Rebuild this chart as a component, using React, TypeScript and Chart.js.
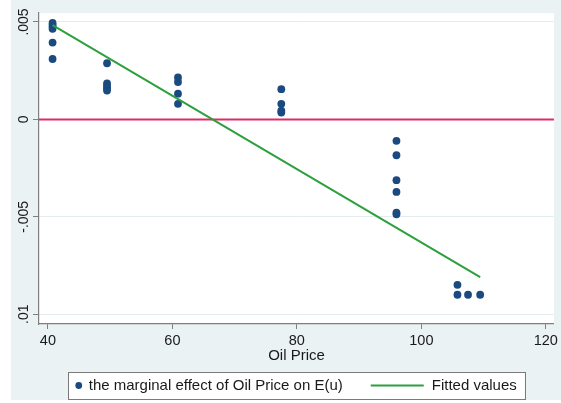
import { useEffect, useRef } from 'react';
import { Chart, registerables } from 'chart.js';

Chart.register(...registerables);

// ---- data ----
const oilPrice = [
  40.75, 40.75, 40.75, 40.75, 40.75, 40.75,
  49.5, 49.5, 49.5, 49.5, 49.5,
  60.9, 60.9, 60.9, 60.9,
  77.5, 77.5, 77.5, 77.5,
  96.0, 96.0, 96.0, 96.0, 96.0, 96.0,
  105.8, 105.8, 107.5, 109.45,
];
const marginalEffect = [
  0.00495, 0.00485, 0.00475, 0.00465, 0.00394, 0.0031,
  0.00288, 0.00185, 0.00172, 0.0016, 0.00148,
  0.00215, 0.00192, 0.00132, 0.0008,
  0.00155, 0.0008, 0.00045, 0.00035,
  -0.0011, -0.00184, -0.00312, -0.00372, -0.00478, -0.00487,
  -0.00849, -0.009, -0.009, -0.009,
];
const fittedX = [40.75, 109.45];
const fittedY = [0.00484, -0.0081];
const refLineX = [38.57, 121.3];
const refLineY = [0, 0];
const xRange = [38.57, 121.3];
const yRange = [-0.0105, 0.00546];
const xTickValues = [40, 60, 80, 100, 120];
const yTickValues = [0.005, 0, -0.005, -0.01];
const yTickLabels = ['.005', '0', '-.005', '.01'];
const seriesNames = ['the marginal effect of Oil Price on E(u)', 'Fitted values'];
const xTitle = 'Oil Price';

const FONT = '"Liberation Sans", Arial, sans-serif';
const NAVY = '#1b4a80';
const GREEN = '#2ca03c';
const RED = '#db2d64';
const FRAME = '#eaf2f3';

const bgPlugin = {
  id: 'bgPlugin',
  beforeDraw(chart: any) {
    const { ctx, width, height, chartArea: a } = chart;
    ctx.save();
    ctx.fillStyle = '#ffffff';
    ctx.fillRect(0, 0, width, height);
    ctx.fillStyle = FRAME;
    ctx.fillRect(11, 0, width - 11, 400);
    ctx.fillStyle = '#ffffff';
    ctx.fillRect(a.left, a.top, a.right - a.left, a.bottom - a.top);
    ctx.restore();
  },
};

const legendPlugin = {
  id: 'boxLegend',
  afterDraw(chart: any) {
    const { ctx, chartArea: a } = chart;
    ctx.save();
    ctx.font = `15px ${FONT}`;
    const w1 = ctx.measureText(seriesNames[0]).width;
    const w2 = ctx.measureText(seriesNames[1]).width;
    const padL = 10.6, dotGap = 10, midGap = 28, lineLen = 53, lineGap = 8, padR = 8;
    const total = padL + dotGap + w1 + midGap + lineLen + lineGap + w2 + padR;
    const cx = (a.left + a.right) / 2;
    const left = cx - total / 2;
    const top = 372;
    const h = 27;
    const cy = top + h / 2;
    ctx.fillStyle = '#ffffff';
    ctx.fillRect(left, top, total, h);
    ctx.strokeStyle = '#7a7a7a';
    ctx.lineWidth = 1;
    ctx.strokeRect(Math.round(left) + 0.5, top + 0.5, Math.round(total), h);
    let x = left + padL;
    ctx.fillStyle = NAVY;
    ctx.beginPath();
    ctx.arc(x, cy, 3.4, 0, Math.PI * 2);
    ctx.fill();
    x += dotGap;
    ctx.fillStyle = '#1a1a1a';
    ctx.textBaseline = 'middle';
    ctx.textAlign = 'left';
    ctx.fillText(seriesNames[0], x, cy);
    x += w1 + midGap;
    ctx.strokeStyle = GREEN;
    ctx.lineWidth = 2;
    ctx.beginPath();
    ctx.moveTo(x, cy);
    ctx.lineTo(x + lineLen, cy);
    ctx.stroke();
    x += lineLen + lineGap;
    ctx.fillStyle = '#1a1a1a';
    ctx.fillText(seriesNames[1], x, cy);
    ctx.restore();
  },
};

export default function App() {
  const ref = useRef<HTMLCanvasElement | null>(null);

  useEffect(() => {
    document.body.style.margin = '0';
    const canvas = ref.current;
    if (!canvas) return;
    const chart = new Chart(canvas, {
      type: 'scatter',
      data: {
        datasets: [
          {
            type: 'line',
            label: seriesNames[1],
            data: fittedX.map((x, i) => ({ x, y: fittedY[i] })),
            borderColor: GREEN,
            borderWidth: 2,
            pointRadius: 0,
            fill: false,
            order: 0,
          } as any,
          {
            label: seriesNames[0],
            data: oilPrice.map((x, i) => ({ x, y: marginalEffect[i] })),
            backgroundColor: NAVY,
            borderColor: NAVY,
            borderWidth: 0,
            pointRadius: 3.9,
            order: 1,
          },
          {
            type: 'line',
            label: 'zero',
            data: refLineX.map((x, i) => ({ x, y: refLineY[i] })),
            borderColor: RED,
            borderWidth: 2,
            pointRadius: 0,
            fill: false,
            order: 2,
          } as any,
        ],
      },
      options: {
        animation: false,
        responsive: false,
        layout: { padding: { left: 11, top: 13, right: 3, bottom: 34 } },
        plugins: {
          legend: { display: false },
          tooltip: { enabled: false },
        },
        scales: {
          x: {
            type: 'linear',
            min: xRange[0],
            max: xRange[1],
            afterBuildTicks: (s: any) => {
              s.ticks = xTickValues.map((v) => ({ value: v }));
            },
            afterFit: (s: any) => {
              s.height = 45;
            },
            grid: {
              drawOnChartArea: false,
              drawTicks: true,
              tickLength: 5,
              tickColor: '#7f7f7f',
            },
            border: { display: true, color: '#7f7f7f', width: 1.2 },
            ticks: {
              color: '#1a1a1a',
              font: { family: FONT, size: 14.5 },
              padding: 3,
              maxRotation: 0,
              callback: (v: any) => String(v),
            },
            title: {
              display: true,
              text: xTitle,
              color: '#1a1a1a',
              font: { family: FONT, size: 15 },
              padding: { top: 0, bottom: 4.5 },
            },
          },
          y: {
            type: 'linear',
            min: yRange[0],
            max: yRange[1],
            afterBuildTicks: (s: any) => {
              s.ticks = yTickValues.map((v) => ({ value: v }));
            },
            afterFit: (s: any) => {
              s.width = 28;
            },
            grid: {
              color: '#e3edf0',
              lineWidth: 1,
              drawTicks: true,
              tickLength: 6,
              tickColor: '#7f7f7f',
            },
            border: { display: true, color: '#7f7f7f', width: 1.2 },
            ticks: {
              color: '#1a1a1a',
              font: { family: FONT, size: 14 },
              minRotation: 90,
              maxRotation: 90,
              crossAlign: 'center',
              padding: -7,
              callback: (v: any) => {
                const i = yTickValues.findIndex((t) => Math.abs(t - v) < 1e-9);
                return i >= 0 ? yTickLabels[i] : '';
              },
            },
          },
        },
      },
      plugins: [bgPlugin, legendPlugin],
    });
    return () => chart.destroy();
  }, []);

  return (
    <div style={{ position: 'absolute', left: 0, top: 0, width: 561, height: 403 }}>
      <canvas ref={ref} width={561} height={403} style={{ display: 'block' }} />
    </div>
  );
}
